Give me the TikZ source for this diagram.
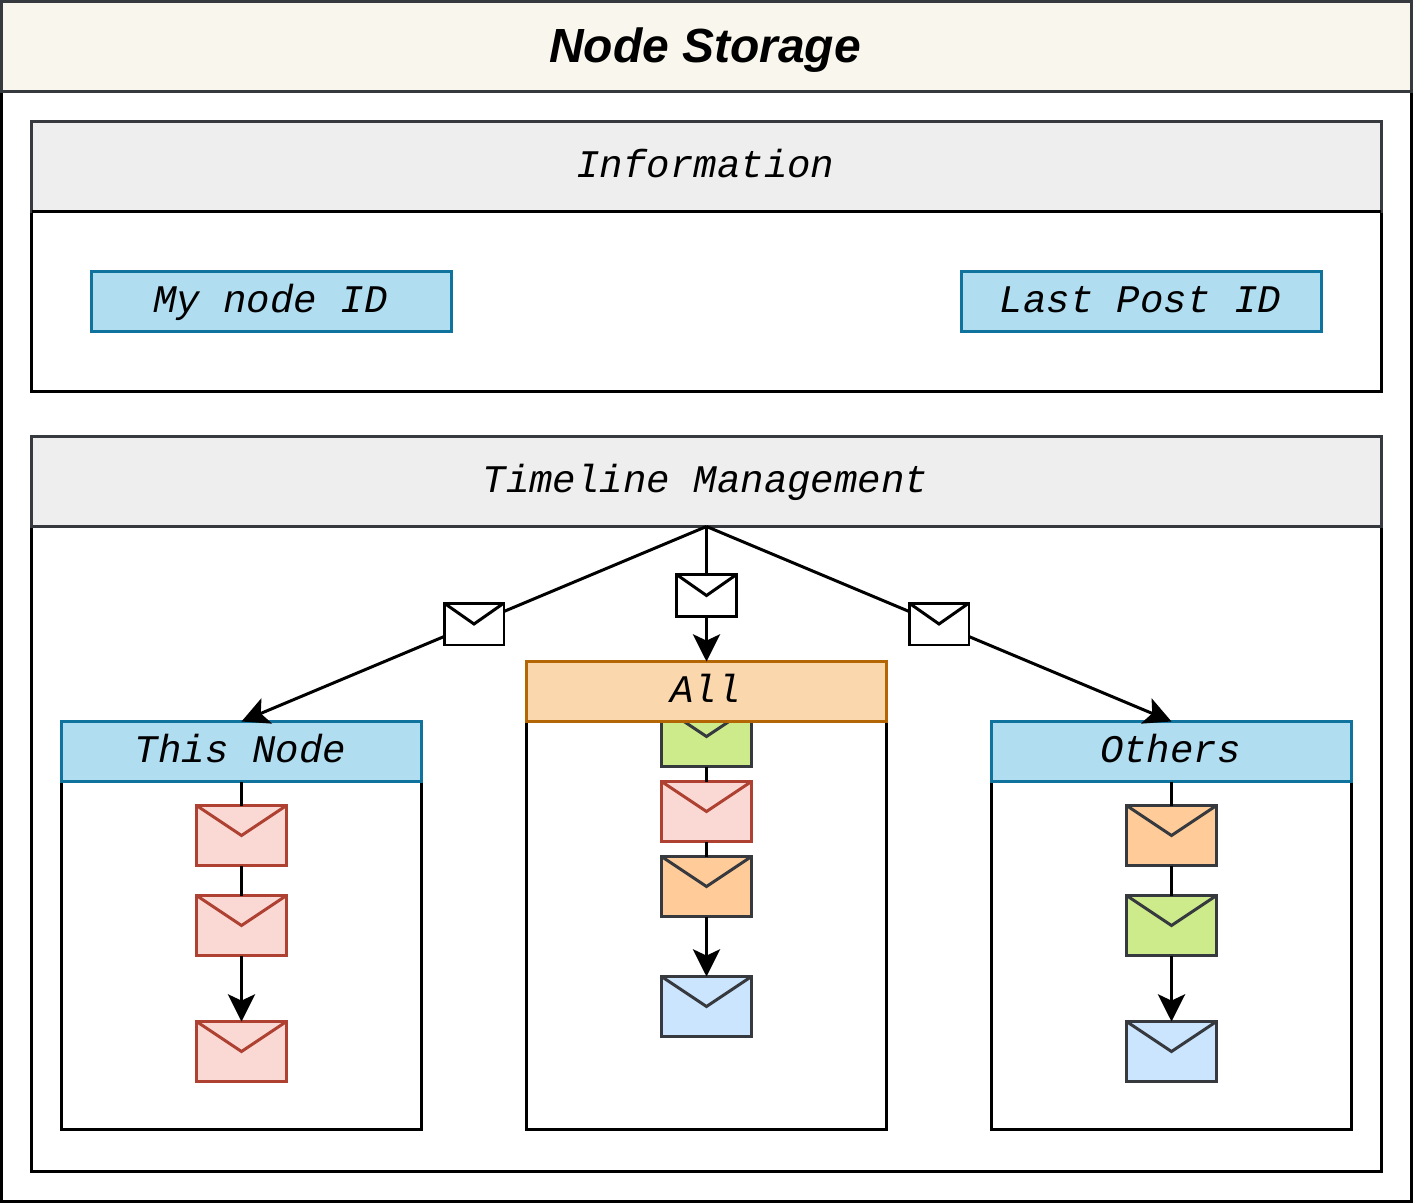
\documentclass[tikz,border=0pt]{standalone}
\usepackage{fontspec}
\setmainfont{Liberation Sans}
\setmonofont{Liberation Mono}
\usetikzlibrary{arrows.meta}
\definecolor{dark}{HTML}{36393D}
\definecolor{cream}{HTML}{F9F7ED}
\definecolor{headgray}{HTML}{EEEEEE}
\definecolor{bluefill}{HTML}{B1DDF0}
\definecolor{blueline}{HTML}{10739E}
\definecolor{orangefill}{HTML}{FAD7AC}
\definecolor{orangeline}{HTML}{B46504}
\definecolor{redfill}{HTML}{FAD9D5}
\definecolor{redline}{HTML}{AE4132}
\definecolor{peach}{HTML}{FFCC99}
\definecolor{lime}{HTML}{CDEB8B}
\definecolor{sky}{HTML}{CCE5FF}

\begin{document}
\begin{tikzpicture}[x=0.02cm, y=-0.02cm, line width=1.7pt,
    box/.style={draw, outer sep=0pt, inner sep=0pt},
    sechead/.style={box, draw=dark, fill=headgray, minimum width=27cm, minimum height=1.8cm,
      text height=12.4pt, text depth=0pt,
      font=\fontsize{22.25}{26}\selectfont\ttfamily\itshape\kern-1.2pt},
    bluebox/.style={box, draw=blueline, fill=bluefill, minimum width=7.2cm, minimum height=1.2cm,
      text height=12.7pt, text depth=0pt,
      font=\fontsize{22.25}{26}\selectfont\ttfamily\itshape\kern-1.2pt},
    orangebox/.style={bluebox, draw=orangeline, fill=orangefill},
    colbody/.style={box, minimum width=7.2cm, minimum height=6.96cm},
    mail/.style 2 args={box, draw=#2, fill=#1, minimum width=1.8cm, minimum height=1.2cm,
      path picture={\draw[#2, line width=1.7pt] (path picture bounding box.north west)
        -- (path picture bounding box.center) -- (path picture bounding box.north east);}},
    mailred/.style={mail={redfill}{redline}},
    mailpeach/.style={mail={peach}{dark}},
    maillime/.style={mail={lime}{dark}},
    mailsky/.style={mail={sky}{dark}},
    tinymail/.style={mail={white}{black}, minimum width=1.2cm, minimum height=0.84cm},
    link/.style={draw=black},
    linkto/.style={link, -{Stealth[length=15.5pt, width=15.5pt, inset=3.6pt]}}]
  \useasboundingbox (0,0) rectangle (1413,1203);

  % outer frame
  \node[box, minimum width=28.2cm, minimum height=24cm] (storagebody) at (706.5,601.5) {};
  \node[box, draw=dark, fill=cream, minimum width=28.2cm, minimum height=1.8cm,
        text height=18.7pt, text depth=0pt,
        font=\fontsize{27.3}{32}\selectfont\bfseries\itshape\kern-1.7pt] (storagehead) at (706.5,46.5) {Node Storage};

  % information
  \node[box, minimum width=27cm, minimum height=5.4cm] (infobody) at (706.5,256.5) {};
  \node[sechead] (infohead) at (706.5,166.5) {Information};
  \draw (infohead.south west) -- (infohead.south east);
  \node[bluebox] (myid) at (271.5,301.5) {My node ID};
  \node[bluebox] (lastid) at (1141.5,301.5) {Last Post ID};

  % timeline
  \node[box, minimum width=27cm, minimum height=14.7cm] (tlbody) at (706.5,804) {};
  \node[sechead] (tlhead) at (706.5,481.5) {Timeline Management};

  \node[colbody] (thisbody) at (241.5,955.5) {};
  \node[colbody] (othersbody) at (1171.5,955.5) {};
  \node[colbody, minimum height=8.16cm] (allbody) at (706.5,925.5) {};

  \foreach \mname/\mx/\my/\mstyle in {this1/241.5/835.5/mailred, this2/241.5/925.5/mailred,
                                      this3/241.5/1051.5/mailred,
                                      all1/706.5/736.5/maillime, all2/706.5/811.5/mailred,
                                      all3/706.5/886.5/mailpeach, all4/706.5/1006.5/mailsky,
                                      others1/1171.5/835.5/mailpeach, others2/1171.5/925.5/maillime,
                                      others3/1171.5/1051.5/mailsky}{
    \node[\mstyle] (\mname) at (\mx,\my) {};
  }

  \node[bluebox] (thishead) at (241.5,751.5) {This Node};
  \node[orangebox] (allhead) at (706.5,691.5) {All};
  \node[bluebox] (othershead) at (1171.5,751.5) {Others};

  \node[tinymail] (maila) at (474,624) {};
  \node[tinymail] (mailb) at (706.5,595.5) {};
  \node[tinymail] (mailc) at (939,624) {};

  % connectors
  \draw[link] (tlhead.south) -- (maila);
  \draw[linkto] (maila) -- (thishead.north);
  \draw[link] (tlhead.south) -- (mailb);
  \draw[linkto] (mailb) -- (allhead.north);
  \draw[link] (tlhead.south) -- (mailc);
  \draw[linkto] (mailc) -- (othershead.north);

  \foreach \pa/\pb in {thishead/this1, this1/this2, othershead/others1, others1/others2,
                       all1/all2, all2/all3}{
    \draw[link] (\pa.south) -- (\pb.north);
  }
  \foreach \pa/\pb in {this2/this3, others2/others3, all3/all4}{
    \draw[linkto] (\pa.south) -- (\pb.north);
  }
\end{tikzpicture}
\end{document}
